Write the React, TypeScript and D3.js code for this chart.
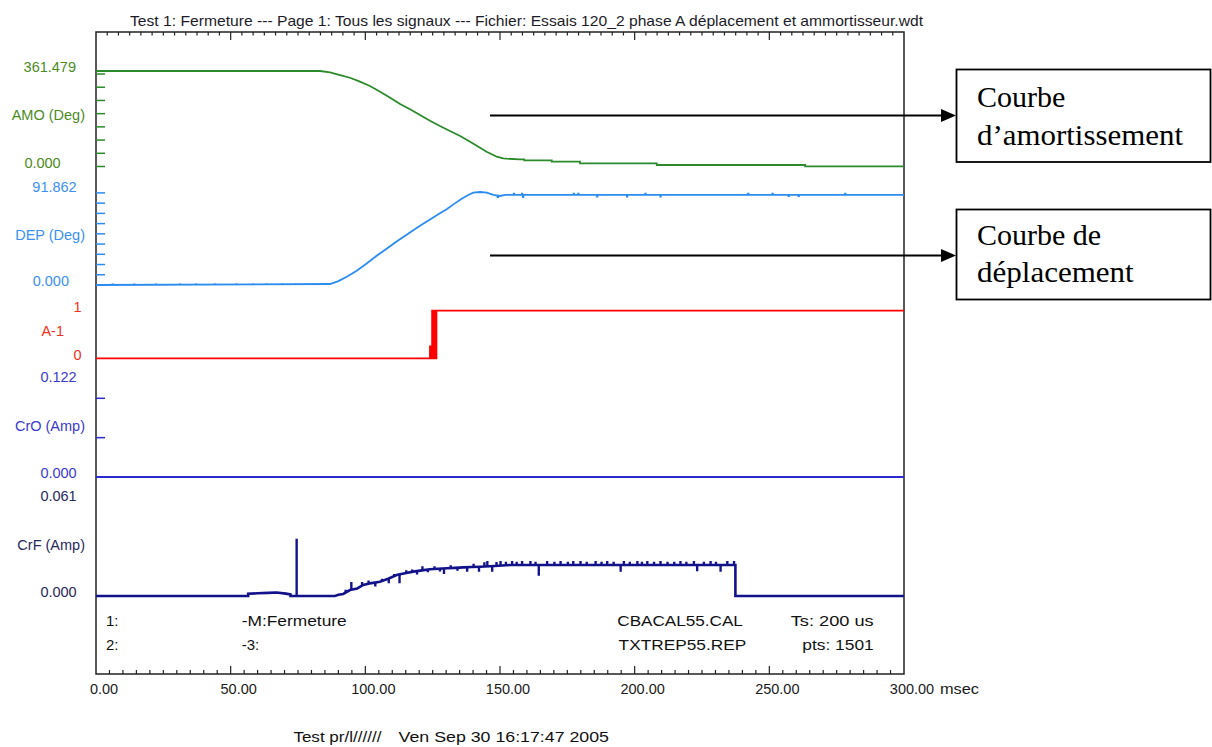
import React from "react";
import * as d3 from "d3";

// ---------- data ----------
const titleText =
  "Test 1: Fermeture --- Page 1: Tous les signaux --- Fichier: Essais 120_2 phase A déplacement et ammortisseur.wdt";
const footerLeft = "Test pr/l//////";
const footerRight = "Ven Sep 30 16:17:47 2005";

const xTicksMajor = [0, 50, 100, 150, 200, 250, 300];
const xUnit = "msec";

const channelNames = ["AMO (Deg)", "DEP (Deg)", "A-1", "CrO (Amp)", "CrF (Amp)"];
const channelMax = [361.479, 91.862, 1, 0.122, 0.061];
const channelTickStep = [50, 10, 0, 0.05, 0];

// AMO (amortissement)
const amoT = [0, 83.2, 86.9, 90.6, 94.3, 98.0, 101.7, 105.5, 109.2, 112.9, 116.6, 120.3, 124.0, 127.7, 131.4, 135.2, 138.9, 142.6, 145.0, 147.5, 148.8, 151.2, 152.5, 157.4, 159.0, 159.0, 169.2, 169.2, 179.7, 179.7, 208.2, 208.2, 263.3, 263.3, 300];
const amoV = [361.5, 361.5, 356, 346.3, 336, 321, 304.7, 283.1, 260.5, 236.6, 216.5, 194.9, 173.4, 153.3, 134.4, 115.4, 93.9, 71.2, 56, 43.5, 37.1, 31.0, 29.5, 27.3, 27.3, 23.5, 23.5, 18.2, 18.2, 12.1, 12.1, 5.7, 5.7, 0.4, 0.4];

// DEP (déplacement)
const depT = [0, 86.9, 90.0, 93.1, 96.8, 100.5, 104.2, 107.9, 111.6, 114.1, 117.8, 120.3, 124.0, 127.7, 130.2, 132.7, 135.8, 138.2, 140.1, 142.6, 145.1, 147.5, 150.0, 152.0, 300];
const depV = [0, 1.0, 3.8, 8.1, 14.0, 21.0, 28.5, 35.5, 42.5, 47.0, 53.5, 57.8, 64.0, 70.1, 74.0, 78.8, 84.2, 88.0, 90.2, 90.9, 90.2, 88.0, 87.0, 88.0, 88.0];
const depSpikeT = [6, 14, 22, 31, 37, 44, 52, 58, 63, 69, 74, 79, 149, 155, 158, 158.4, 177.2, 178.9, 185.9, 197, 203.8, 209.4, 242, 251, 257, 260.7, 278];
const depSpikeV = [1, 1, 1, 1, 1, 1, 1, 1, 1, 1, 1, 1, 85.7, 89.6, 89.6, 85.7, 89.6, 89.6, 86.2, 86.2, 89.6, 86.2, 89.6, 89.6, 86.5, 86.5, 89.6];

// A-1 (contact)
const a1T = [0, 124.0, 124.0, 124.6, 124.6, 124.8, 124.8, 125.0, 125.0, 125.2, 125.2, 125.4, 125.4, 125.6, 125.6, 125.8, 125.8, 126.0, 126.0, 126.2, 126.2, 126.4, 126.4, 300];
const a1V = [0, 0, 0.25, 0.25, 0, 0, 1, 1, 0, 0, 1, 1, 0, 0, 1, 1, 0, 0, 1, 1, 0, 0, 1, 1];

// CrO
const croT = [0, 300];
const croV = [0, 0];

// CrF
const crfT = [0, 56.5, 56.5, 60, 64, 67, 70.5, 71.5, 72.2, 72.2, 88.7, 90, 91.8, 94.3, 97, 99.2, 102.3, 105.4, 108.5, 111.6, 114.7, 117.8, 121, 124, 127, 130.2, 133.3, 136.4, 139.5, 142.6, 148, 153.7, 237.4, 237.4, 300];
const crfV = [0, 0, 0.0015, 0.0017, 0.002, 0.0022, 0.0015, 0.0012, 0.001, 0, 0, 0.0008, 0.0013, 0.0038, 0.0048, 0.007, 0.0082, 0.0091, 0.011, 0.0133, 0.0145, 0.0155, 0.0163, 0.017, 0.0173, 0.0176, 0.0179, 0.0182, 0.0184, 0.0186, 0.0191, 0.0197, 0.0197, 0, 0];
const crfSpikeT = [74.3, 92.5, 94.6, 96.2, 98.6, 101, 103.5, 106, 108.5, 110.5, 112.5, 115, 117.2, 119, 121, 123, 125.5, 127.5, 129, 131.5, 134, 137.6, 140, 142, 144, 145.1, 146.9, 148.5, 150, 152, 154.3, 156, 158, 161.1, 163, 164.2, 167.3, 170, 172.3, 175, 177, 179.7, 182, 185.3, 187.5, 189.6, 192, 194.6, 195.8, 198, 200.8, 202.5, 204.5, 207, 209.4, 212, 214.5, 216.8, 219, 221.8, 223, 225.5, 228, 230, 231.7, 234.2, 236.7];
const crfSpikeV = [0.036, 0.0035, 0.0085, 0.0045, 0.0085, 0.0095, 0.0065, 0.0105, 0.0085, 0.0135, 0.0085, 0.0160, 0.0165, 0.0140, 0.0185, 0.0155, 0.0185, 0.0160, 0.0144, 0.0192, 0.0165, 0.0159, 0.0200, 0.0159, 0.0210, 0.0219, 0.0159, 0.0212, 0.0219, 0.0214, 0.0219, 0.0213, 0.0219, 0.0219, 0.0214, 0.0133, 0.0219, 0.0213, 0.0219, 0.0214, 0.0219, 0.0219, 0.0213, 0.0219, 0.0214, 0.0219, 0.0213, 0.0159, 0.0219, 0.0214, 0.0219, 0.0213, 0.0219, 0.0214, 0.0219, 0.0213, 0.0214, 0.0219, 0.0213, 0.0219, 0.0162, 0.0214, 0.0219, 0.0213, 0.0159, 0.0219, 0.0219];

const infoLeft1 = ["1:", "-M:Fermeture"];
const infoLeft2 = ["2:", "-3:"];
const infoRight1 = ["CBACAL55.CAL", "Ts: 200 us"];
const infoRight2 = ["TXTREP55.REP", "pts: 1501"];

const annot1 = ["Courbe", "d\u2019amortissement"];
const annot2 = ["Courbe de", "déplacement"];

// ---------- layout ----------
const W = 1212;
const H = 747;
const L = 96, R = 904, T = 32, B = 674;
const bands: [number, number][] = [
  [166.5, 71],
  [285, 191],
  [358.3, 310.7],
  [477, 381],
  [596, 500],
];
const lineColors = ["#2b8b2b", "#2b8cf0", "#ff0000", "#2a2ad0", "#12128a"];
const labelColors = ["#4b8b1f", "#3c8ff0", "#f03020", "#3a3ad0", "#28285e"];
const lineWidths = [1.8, 1.8, 1.8, 1.8, 2.6];
const topLabelEnd = [76, 76.7, 81.7, 76.7, 76.7];
const zeroLabelEnd = [60.7, 69, 81.7, 76.7, 76.7];
const nameEnd = [85, 85, 64, 85, 85];

const sans = "'Liberation Sans', Arial, Helvetica, sans-serif";
const serif = "'Liberation Serif', 'Times New Roman', serif";

const x = d3.scaleLinear().domain([0, 300]).range([L, R]);
const ys = channelMax.map((m, i) => d3.scaleLinear().domain([0, m]).range(bands[i]));

function linePath(tArr: number[], vArr: number[], y: d3.ScaleLinear<number, number>) {
  const gen = d3
    .line<number>()
    .x((i) => x(tArr[i]))
    .y((i) => y(vArr[i]));
  return gen(d3.range(tArr.length)) || "";
}

function spikePath(
  tArr: number[],
  vArr: number[],
  sT: number[],
  sV: number[],
  y: d3.ScaleLinear<number, number>
) {
  const base = (t: number) => {
    const i = d3.bisectRight(tArr, t);
    if (i <= 0) return vArr[0];
    if (i >= tArr.length) return vArr[vArr.length - 1];
    const t0 = tArr[i - 1], t1 = tArr[i];
    const v0 = vArr[i - 1], v1 = vArr[i];
    return t1 === t0 ? v1 : v0 + ((v1 - v0) * (t - t0)) / (t1 - t0);
  };
  return sT
    .map((t, k) => {
      const b = base(t);
      return `M${x(t)},${y(b)}V${y(sV[k])}H${x(t + 0.4)}V${y(b)}`;
    })
    .join("");
}

const fmtVal = (v: number, i: number) => (i === 2 ? d3.format("d")(v) : d3.format(".3f")(v));

export default function App() {
  const topMinor = d3.range(0, 300.0001, 50 / 12).filter((t) => t > 0.01 && t < 299.99);
  const botMinor = d3.range(5, 300, 5);

  const series = [
    { t: amoT, v: amoV },
    { t: depT, v: depV },
    { t: a1T, v: a1V },
    { t: croT, v: croV },
    { t: crfT, v: crfV },
  ];

  return (
    <svg
      width={W}
      height={H}
      viewBox={`0 0 ${W} ${H}`}
      style={{ position: "absolute", left: 0, top: 0, background: "#fff" }}
    >
      <rect x={0} y={0} width={W} height={H} fill="#fff" />
      <text
        x={130}
        y={26}
        fontFamily={sans}
        fontSize={15}
        fill="#1c1c28"
        textLength={793}
        lengthAdjust="spacingAndGlyphs"
      >
        {titleText}
      </text>

      <rect x={L} y={T} width={R - L} height={B - T} fill="none" stroke="#222" strokeWidth={1.5} />

      {topMinor.map((t, i) => {
        const major = Math.abs(t / 50 - Math.round(t / 50)) < 1e-6;
        return (
          <line key={"tt" + i} x1={x(t)} x2={x(t)} y1={T} y2={T + (major ? 8 : 3.5)} stroke="#222" strokeWidth={1.2} />
        );
      })}
      {botMinor.map((t, i) => {
        const major = t % 50 === 0;
        return (
          <line key={"bt" + i} x1={x(t)} x2={x(t)} y1={B} y2={B - (major ? 8 : 4)} stroke="#222" strokeWidth={1.2} />
        );
      })}

      {xTicksMajor.map((t) => (
        <text key={"xl" + t} x={x(t) + 8} y={694} textAnchor="middle" fontFamily={sans} fontSize={14.5} fill="#1a1a1a">
          {d3.format(".2f")(t)}
        </text>
      ))}
      <text x={940} y={694} fontFamily={sans} fontSize={14.5} fill="#1a1a1a" textLength={39} lengthAdjust="spacingAndGlyphs">
        {xUnit}
      </text>

      {channelNames.map((name, i) => {
        const y = ys[i];
        const step = channelTickStep[i];
        const ticks = step > 0 ? d3.range(0, channelMax[i], step) : [];
        return (
          <g key={"ch" + i}>
            {ticks.map((v, k) => (
              <line key={k} x1={L} x2={L + 9} y1={y(v)} y2={y(v)} stroke={lineColors[i]} strokeWidth={1.5} />
            ))}
            <text x={topLabelEnd[i]} y={y(channelMax[i]) + 1.3} textAnchor="end" fontFamily={sans} fontSize={14.5} fill={labelColors[i]}>
              {fmtVal(channelMax[i], i)}
            </text>
            <text x={nameEnd[i]} y={(bands[i][0] + bands[i][1]) / 2 + 1.5} textAnchor="end" fontFamily={sans} fontSize={14.5} fill={labelColors[i]}>
              {name}
            </text>
            <text x={zeroLabelEnd[i]} y={y(0) + 1.3} textAnchor="end" fontFamily={sans} fontSize={14.5} fill={labelColors[i]}>
              {fmtVal(0, i)}
            </text>
            <path
              d={linePath(series[i].t, series[i].v, y)}
              fill="none"
              stroke={lineColors[i]}
              strokeWidth={lineWidths[i]}
              strokeLinejoin="miter"
            />
          </g>
        );
      })}
      <path d={spikePath(depT, depV, depSpikeT, depSpikeV, ys[1])} fill="none" stroke={lineColors[1]} strokeWidth={1.2} />
      <path d={spikePath(crfT, crfV, crfSpikeT, crfSpikeV, ys[4])} fill="none" stroke={lineColors[4]} strokeWidth={1.3} />

      <text x={106} y={626} fontFamily={sans} fontSize={15} fill="#111">{infoLeft1[0]}</text>
      <text x={241.7} y={626} fontFamily={sans} fontSize={15} fill="#111" textLength={105} lengthAdjust="spacingAndGlyphs">{infoLeft1[1]}</text>
      <text x={106} y={650} fontFamily={sans} fontSize={15} fill="#111">{infoLeft2[0]}</text>
      <text x={241.7} y={650} fontFamily={sans} fontSize={15} fill="#111">{infoLeft2[1]}</text>
      <text x={617.3} y={626} fontFamily={sans} fontSize={15} fill="#111" textLength={125.6} lengthAdjust="spacingAndGlyphs">{infoRight1[0]}</text>
      <text x={618.6} y={650} fontFamily={sans} fontSize={15} fill="#111" textLength={127.6} lengthAdjust="spacingAndGlyphs">{infoRight2[0]}</text>
      <text x={790.7} y={626} fontFamily={sans} fontSize={15} fill="#111" textLength={83} lengthAdjust="spacingAndGlyphs">{infoRight1[1]}</text>
      <text x={802.3} y={650} fontFamily={sans} fontSize={15} fill="#111" textLength={71.4} lengthAdjust="spacingAndGlyphs">{infoRight2[1]}</text>

      <text x={293.4} y={741.5} fontFamily={sans} fontSize={14} fill="#111" textLength={88} lengthAdjust="spacingAndGlyphs">{footerLeft}</text>
      <text x={398.6} y={741.5} fontFamily={sans} fontSize={14} fill="#111" textLength={210.4} lengthAdjust="spacingAndGlyphs">{footerRight}</text>

      <line x1={490} x2={942} y1={115.5} y2={115.5} stroke="#000" strokeWidth={2} />
      <polygon points="941,109 956,115.5 941,122" fill="#000" />
      <line x1={490} x2={942} y1={255.5} y2={255.5} stroke="#000" strokeWidth={2} />
      <polygon points="941,249 956,255.5 941,262" fill="#000" />
      <rect x={956.5} y={69.5} width={254} height={92.5} fill="#fff" stroke="#000" strokeWidth={1.8} />
      <rect x={956.5} y={209.5} width={254} height={90} fill="#fff" stroke="#000" strokeWidth={1.8} />
      <text x={977} y={106.5} fontFamily={serif} fontSize={30} fill="#000">{annot1[0]}</text>
      <text x={977} y={144.5} fontFamily={serif} fontSize={30} fill="#000" textLength={206} lengthAdjust="spacingAndGlyphs">{annot1[1]}</text>
      <text x={977} y={245} fontFamily={serif} fontSize={30} fill="#000">{annot2[0]}</text>
      <text x={977} y={281.7} fontFamily={serif} fontSize={30} fill="#000" textLength={156.7} lengthAdjust="spacingAndGlyphs">{annot2[1]}</text>
    </svg>
  );
}
